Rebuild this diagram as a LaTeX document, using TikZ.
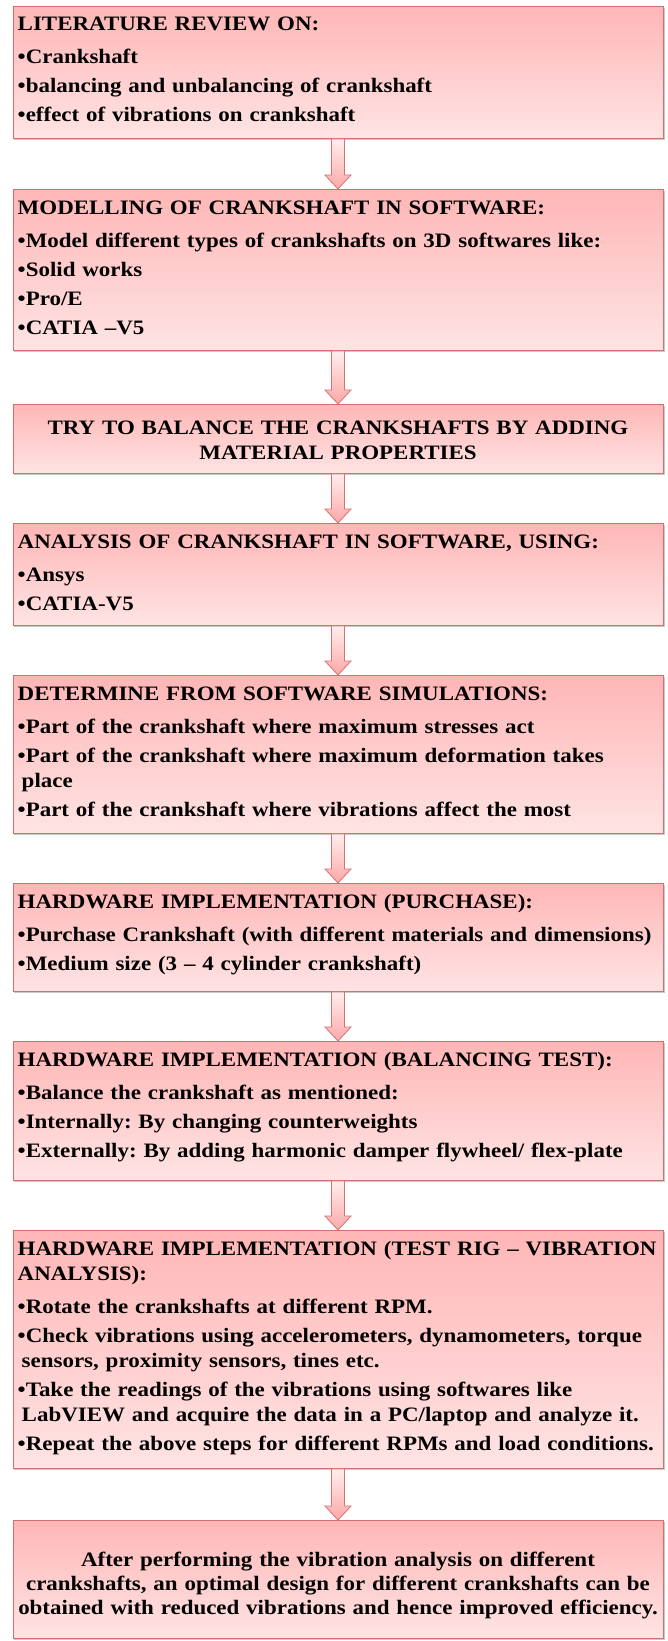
\documentclass[tikz,border=0pt]{standalone}
\usepackage{fontspec}
\setmainfont{Liberation Serif}[FakeStretch=1.12]
\frenchspacing
\usetikzlibrary{shadows,calc}
\definecolor{boxtop}{RGB}{255,182,182}
\definecolor{boxbot}{RGB}{255,228,228}
\definecolor{boxedge}{RGB}{210,112,112}
\definecolor{arrtop}{RGB}{255,238,238}
\definecolor{arrbot}{RGB}{255,168,168}
\definecolor{arredge}{RGB}{218,112,112}
\tikzset{
  stage/.style={rectangle, draw=boxedge, line width=0.9bp, top color=boxtop, bottom color=boxbot,
    minimum width=650bp, inner sep=0pt,
    drop shadow={shadow xshift=1.5bp, shadow yshift=-2bp, opacity=0.35, fill=black!60}},
  stagetext/.style={anchor=north west, inner sep=0pt, text width=660bp, align=left,
    font=\bfseries\fontsize{20.5bp}{25bp}\selectfont},
  centertext/.style={anchor=north, inner sep=0pt, text width=650bp, align=center,
    font=\bfseries\fontsize{20.5bp}{25bp}\selectfont},
  flowarr/.style={draw=arredge, line width=0.8bp, top color=arrtop, bottom color=arrbot, line join=miter}
}
\newcommand\flowarrow[2]{%
  \path[flowarr] let \p1=(#1.south), \p2=(#2.north) in
    (\x1-6.5bp,\y1) -- (\x1-6.5bp,\y2+14bp) -- (\x1-13bp,\y2+14bp) -- (\x1,\y2)
    -- (\x1+13bp,\y2+14bp) -- (\x1+6.5bp,\y2+14bp) -- (\x1+6.5bp,\y1) -- cycle;}
\newcommand\firstline{\rule{0pt}{15bp}}
\newcommand\hskipitem{\\[8bp]}
\newcommand\pskip{\\[4bp]}
\newcommand\wrapline{\\\hspace*{4bp}}
\begin{document}
\begin{tikzpicture}[x=1bp,y=-1bp]
\useasboundingbox (0,0) rectangle (668,1641);
\fill[white] (0,0) rectangle (668,1641);
% boxes
\node[stage, minimum height=132bp, anchor=north] (b1) at (338,6) {};
\node[stage, minimum height=161bp, anchor=north] (b2) at (338,189) {};
\node[stage, minimum height=69bp,  anchor=north] (b3) at (338,404) {};
\node[stage, minimum height=102bp, anchor=north] (b4) at (338,523) {};
\node[stage, minimum height=158bp, anchor=north] (b5) at (338,675) {};
\node[stage, minimum height=108bp, anchor=north] (b6) at (338,883) {};
\node[stage, minimum height=139bp, anchor=north] (b7) at (338,1041) {};
\node[stage, minimum height=238bp, anchor=north] (b8) at (338,1230) {};
\node[stage, minimum height=118bp, anchor=north] (b9) at (338,1520) {};
% texts
\node[stagetext] (t1) at ($(b1.north west)+(5,9)$) {\firstline LITERATURE REVIEW ON:\hskipitem
•Crankshaft\pskip
•balancing and unbalancing of crankshaft\pskip
•effect of vibrations on crankshaft};
\node[stagetext] (t2) at ($(b2.north west)+(5,10)$) {\firstline MODELLING OF CRANKSHAFT IN SOFTWARE:\hskipitem
•Model different types of crankshafts on 3D softwares like:\pskip
•Solid works\pskip
•Pro/E\pskip
•CATIA –V5};
\node[centertext] (t3) at ($(b3.north)+(0,15)$) {\firstline TRY TO BALANCE THE CRANKSHAFTS BY ADDING\\
MATERIAL PROPERTIES};
\node[stagetext] (t4) at ($(b4.north west)+(5,10)$) {\firstline ANALYSIS OF CRANKSHAFT IN SOFTWARE, USING:\hskipitem
•Ansys\pskip
•CATIA-V5};
\node[stagetext] (t5) at ($(b5.north west)+(5,10)$) {\firstline DETERMINE FROM SOFTWARE SIMULATIONS:\hskipitem
•Part of the crankshaft where maximum stresses act\pskip
•Part of the crankshaft where maximum deformation takes\wrapline place\pskip
•Part of the crankshaft where vibrations affect the most};
\node[stagetext] (t6) at ($(b6.north west)+(5,10)$) {\firstline HARDWARE IMPLEMENTATION (PURCHASE):\hskipitem
•Purchase Crankshaft (with different materials and dimensions)\pskip
•Medium size (3 – 4 cylinder crankshaft)};
\node[stagetext] (t7) at ($(b7.north west)+(5,10)$) {\firstline HARDWARE IMPLEMENTATION (BALANCING TEST):\hskipitem
•Balance the crankshaft as mentioned:\pskip
•Internally: By changing counterweights\pskip
•Externally: By adding harmonic damper flywheel/ flex-plate};
\node[stagetext] (t8) at ($(b8.north west)+(5,10)$) {\firstline HARDWARE IMPLEMENTATION (TEST RIG – VIBRATION\\
ANALYSIS):\hskipitem
•Rotate the crankshafts at different RPM.\pskip
•Check vibrations using accelerometers, dynamometers, torque\wrapline sensors, proximity sensors, tines etc.\pskip
•Take the readings of the vibrations using softwares like\wrapline LabVIEW and acquire the data in a PC/laptop and analyze it.\pskip
•Repeat the above steps for different RPMs and load conditions.};
\node[centertext, font=\bfseries\fontsize{20.5bp}{24bp}\selectfont] (t9) at ($(b9.north)+(0,31)$) {\firstline After performing the vibration analysis on different\\
crankshafts, an optimal design for different crankshafts can be\\
obtained with reduced vibrations and hence improved efficiency.};
% arrows
\flowarrow{b1}{b2}
\flowarrow{b2}{b3}
\flowarrow{b3}{b4}
\flowarrow{b4}{b5}
\flowarrow{b5}{b6}
\flowarrow{b6}{b7}
\flowarrow{b7}{b8}
\flowarrow{b8}{b9}
\end{tikzpicture}
\end{document}
